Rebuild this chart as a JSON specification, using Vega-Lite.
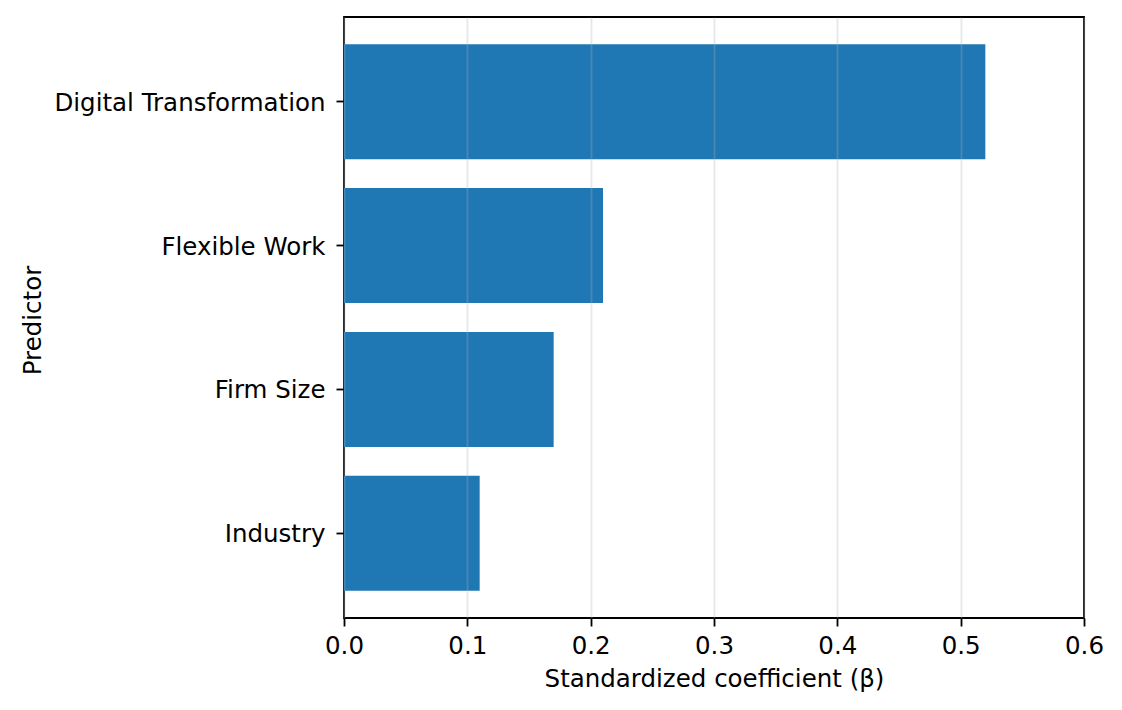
{
  "$schema": "https://vega.github.io/schema/vega-lite/v6.json",
  "autosize": "none",
  "padding": {"left": 344, "top": 17, "right": 38, "bottom": 92},
  "width": 740,
  "height": 601,
  "background": "white",
  "data": {
    "values": [
      {"predictor": "Digital Transformation", "beta": 0.52},
      {"predictor": "Flexible Work", "beta": 0.21},
      {"predictor": "Firm Size", "beta": 0.17},
      {"predictor": "Industry", "beta": 0.11}
    ]
  },
  "mark": {"type": "bar", "color": "#1f77b4"},
  "encoding": {
    "y": {
      "field": "predictor",
      "type": "nominal",
      "sort": null,
      "title": "Predictor",
      "scale": {"paddingInner": 0.2, "paddingOuter": 0.19},
      "axis": {
        "grid": false,
        "labelPadding": 11,
        "labelLimit": 0,
        "labelOffset": 2,
        "titleAngle": -90,
        "titleAlign": "center",
        "titleBaseline": "alphabetic",
        "titleX": -304,
        "titleY": 303
      }
    },
    "x": {
      "field": "beta",
      "type": "quantitative",
      "title": "Standardized coefficient (β)",
      "scale": {"domain": [0, 0.6], "nice": false},
      "axis": {
        "values": [0, 0.1, 0.2, 0.3, 0.4, 0.5, 0.6],
        "format": ".1f",
        "labelFlush": false,
        "labelPadding": 8,
        "grid": true,
        "gridColor": "#b0b0b0",
        "gridOpacity": 0.3,
        "gridWidth": 1.8,
        "zindex": 1,
        "titlePadding": 10
      }
    }
  },
  "config": {
    "font": "DejaVu Sans",
    "view": {"stroke": "#000", "strokeWidth": 1.8},
    "axis": {
      "domain": false,
      "tickColor": "#000",
      "tickWidth": 1.8,
      "tickSize": 8,
      "labelFont": "DejaVu Sans",
      "labelFontSize": 24.5,
      "labelColor": "#000",
      "titleFont": "DejaVu Sans",
      "titleFontSize": 24.5,
      "titleFontWeight": "normal",
      "titleColor": "#000"
    }
  }
}
